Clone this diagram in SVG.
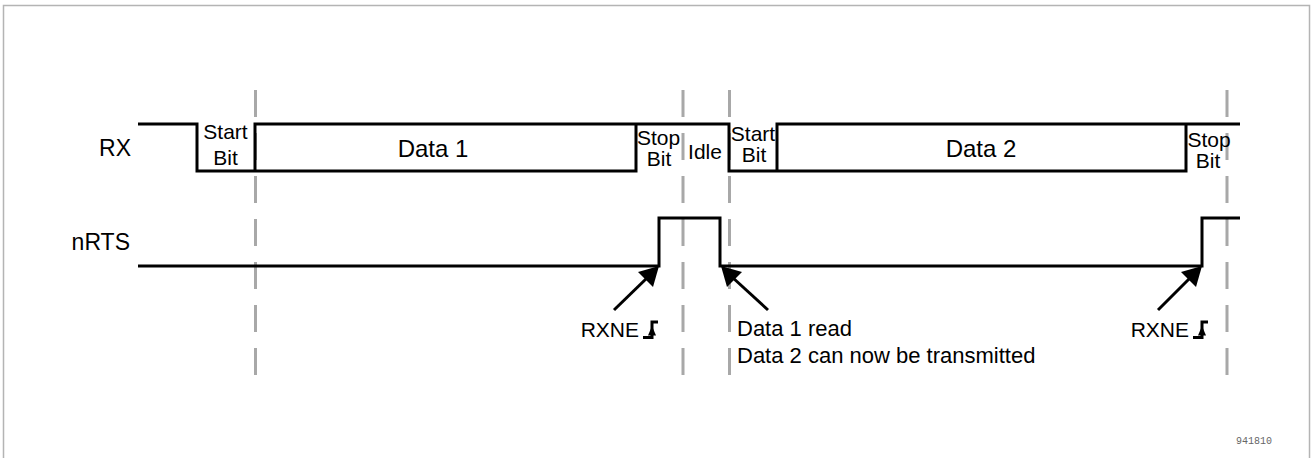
<svg xmlns="http://www.w3.org/2000/svg" width="1314" height="458" viewBox="0 0 1314 458">
<style>
text{font-family:"Liberation Sans",Arial,sans-serif;fill:#000}
.lbl{font-size:23px}
.big{font-size:24px}
.sm{font-size:21px}
.note{font-size:22px}
.wave{fill:none;stroke:#000;stroke-width:3;stroke-linejoin:miter;stroke-linecap:butt}
.grid{stroke:#a8a8a8;stroke-width:3;stroke-dasharray:27 16;fill:none}
.arr{stroke:#000;stroke-width:3;fill:none}
.head{fill:#000}
.id{font-family:"Liberation Mono","DejaVu Sans Mono",monospace;font-size:10px;fill:#666}
</style>
<defs>
<g id="edge">
<path d="M0,15.5 H9 V0 H15" fill="none" stroke="#000" stroke-width="3"/>
<path d="M5,13.5 L9,4 L13,13.5 z" fill="#000"/>
</g>
</defs>
<rect x="3.5" y="5.5" width="1306" height="470" fill="#fff" stroke="#b4b4b4" stroke-width="1.5"/>
<g id="gridlines">
<line class="grid" x1="255.5" y1="90" x2="255.5" y2="375"/>
<line class="grid" x1="683" y1="90" x2="683" y2="375"/>
<line class="grid" x1="729.5" y1="90" x2="729.5" y2="375"/>
<line class="grid" x1="1227" y1="90" x2="1227" y2="375"/>
</g>
<g id="rx">
<path class="wave" d="M138,124 H197 V171 H636 V124"/>
<path class="wave" d="M255,171 V124 H729 V171 H1186 V124"/>
<path class="wave" d="M777,171 V124 H1240"/>
<text class="lbl" x="131" y="156" text-anchor="end">RX</text>
<text class="sm" x="225.5" y="139" text-anchor="middle">Start</text>
<text class="sm" x="225.5" y="165" text-anchor="middle">Bit</text>
<text class="big" x="433" y="157" text-anchor="middle">Data  1</text>
<text class="sm" x="658.5" y="145" text-anchor="middle">Stop</text>
<text class="sm" x="659" y="166" text-anchor="middle">Bit</text>
<text class="sm" x="705" y="159" text-anchor="middle">Idle</text>
<text class="sm" x="753" y="141" text-anchor="middle">Start</text>
<text class="sm" x="754" y="162" text-anchor="middle">Bit</text>
<text class="big" x="981" y="157" text-anchor="middle">Data  2</text>
<text class="sm" x="1209" y="147" text-anchor="middle">Stop</text>
<text class="sm" x="1208" y="168" text-anchor="middle">Bit</text>
</g>
<g id="nrts">
<path class="wave" d="M138,266 H659 V218 H720 V266 H1202 V218 H1240"/>
<text class="lbl" x="130" y="250" text-anchor="end">nRTS</text>
</g>
<g id="connectors">
<line class="arr" x1="614" y1="310" x2="648" y2="277"/>
<polygon class="head" points="659,266 653,287 638,272"/>
<line class="arr" x1="768" y1="310" x2="732" y2="277"/>
<polygon class="head" points="721,266 742,272 727,287"/>
<line class="arr" x1="1158" y1="310" x2="1191" y2="277"/>
<polygon class="head" points="1202,266 1196,287 1181,272"/>
</g>
<g id="rxne1">
<text class="sm" x="639" y="337" text-anchor="end">RXNE</text>
<use href="#edge" x="643" y="322"/>
</g>
<g id="read">
<text class="note" x="737" y="336">Data 1 read</text>
<text class="note" x="737" y="363">Data 2 can now be transmitted</text>
</g>
<g id="rxne2">
<text class="sm" x="1189" y="337" text-anchor="end">RXNE</text>
<use href="#edge" x="1193" y="322"/>
</g>
<text class="id" x="1236" y="444">941810</text>
</svg>
